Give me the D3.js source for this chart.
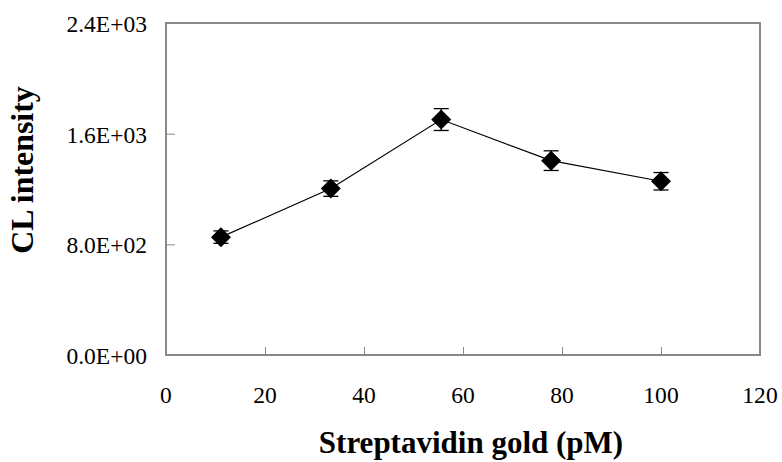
<!DOCTYPE html>
<html>
<head>
<meta charset="utf-8">
<script src="https://cdn.jsdelivr.net/npm/d3@7"></script>
<style>
  body { margin: 0; background: #fff; }
  svg { display: block; }
  text { font-family: "Liberation Serif", "Times New Roman", serif; fill: #000; }
</style>
</head>
<body>
<svg id="chart" width="782" height="462"></svg>
<script>
// data
var concentrations = [11.1, 33.3, 55.6, 77.8, 100];   // pM
var intensities    = [852, 1203, 1702, 1405, 1256];
var errors         = [45, 56, 79, 71, 63];
var xTicks = [0, 20, 40, 60, 80, 100, 120];
var yTicks = [0, 800, 1600, 2400];

var W = 782, H = 462;
var margin = { left: 166, right: 22, top: 23, bottom: 107 };
var innerW = W - margin.left - margin.right,
    innerH = H - margin.top - margin.bottom;

var svg = d3.select( "#chart");
var g = svg.append( "g").attr( "transform", "translate(" + margin.left + "," + margin.top + ")");

var x = d3.scaleLinear().domain( [0, 120]).range( [0, innerW]);
var y = d3.scaleLinear().domain( [0, 2400]).range( [innerH, 0]);

var frameColor = "#888";

// frame
g.append( "rect")
  .attr( "x", 0).attr( "y", 0)
  .attr( "width", innerW).attr( "height", innerH)
  .attr( "fill", "none")
  .attr( "stroke", frameColor)
  .attr( "stroke-width", 2);

// inward ticks, excel style
var xAxis = d3.axisBottom( x).tickValues( xTicks).tickSize( -8).tickFormat( "");
var yAxis = d3.axisLeft( y).tickValues( yTicks).tickSize( -9).tickFormat( "");

g.append( "g").attr( "transform", "translate(0," + innerH + ")").call( xAxis)
  .call( function( s) { s.select( ".domain").remove(); })
  .selectAll( "line").attr( "stroke", frameColor).attr( "stroke-width", 1);
g.append( "g").call( yAxis)
  .call( function( s) { s.select( ".domain").remove(); })
  .selectAll( "line").attr( "stroke", frameColor).attr( "stroke-width", 1);

// tick labels
var sx = 0.98, tickFont = 24;
g.selectAll( ".xlab").data( xTicks).enter()
  .append( "text")
  .attr( "class", "xlab")
  .attr( "transform", function( d) { return "translate(" + x( d) + "," + (innerH + 48) + ") scale(" + sx + ",1)"; })
  .attr( "text-anchor", "middle")
  .style( "font-size", tickFont + "px")
  .text( function( d) { return d; });

function sci( v) {
  if ( v === 0) return "0.0E+00";
  var e = Math.floor( Math.log10( v));
  return ( v / Math.pow( 10, e)).toFixed( 1) + "E+" + ( e < 10 ? "0" : "") + e;
}

g.selectAll( ".ylab").data( yTicks).enter()
  .append( "text")
  .attr( "class", "ylab")
  .attr( "transform", function( d) { return "translate(-19," + ( y( d) + 9) + ") scale(" + sx + ",1)"; })
  .attr( "text-anchor", "end")
  .style( "font-size", tickFont + "px")
  .text( sci);

// axis titles
svg.append( "text")
  .attr( "transform", "translate(471,453)")
  .attr( "text-anchor", "middle")
  .style( "font-size", "31px")
  .style( "font-weight", "bold")
  .text( "Streptavidin gold (pM)");

svg.append( "text")
  .attr( "transform", "translate(33,170) rotate(-90) scale(1.03,1)")
  .attr( "text-anchor", "middle")
  .style( "font-size", "31px")
  .style( "font-weight", "bold")
  .text( "CL intensity");

// series
var pts = concentrations.map( function( c, i) {
  return { x: c, y: intensities[ i], e: errors[ i] };
});

g.append( "path")
  .datum( pts)
  .attr( "fill", "none")
  .attr( "stroke", "#000")
  .attr( "stroke-width", 1.2)
  .attr( "d", d3.line().x( function( d) { return x( d.x); }).y( function( d) { return y( d.y); }));

// error bars
var capW = 7.5;
var eb = g.selectAll( ".err").data( pts).enter().append( "g").attr( "class", "err")
  .attr( "stroke", "#000").attr( "stroke-width", 1.3);
eb.append( "line")
  .attr( "x1", function( d) { return x( d.x); }).attr( "x2", function( d) { return x( d.x); })
  .attr( "y1", function( d) { return y( d.y + d.e); }).attr( "y2", function( d) { return y( d.y - d.e); });
eb.append( "line")
  .attr( "x1", function( d) { return x( d.x) - capW; }).attr( "x2", function( d) { return x( d.x) + capW; })
  .attr( "y1", function( d) { return y( d.y + d.e); }).attr( "y2", function( d) { return y( d.y + d.e); });
eb.append( "line")
  .attr( "x1", function( d) { return x( d.x) - capW; }).attr( "x2", function( d) { return x( d.x) + capW; })
  .attr( "y1", function( d) { return y( d.y - d.e); }).attr( "y2", function( d) { return y( d.y - d.e); });

// diamond markers
var diamond = d3.symbol().type( d3.symbolSquare).size( 200);
g.selectAll( ".pt").data( pts).enter()
  .append( "path")
  .attr( "class", "pt")
  .attr( "transform", function( d) { return "translate(" + x( d.x) + "," + y( d.y) + ") rotate(45)"; })
  .attr( "d", diamond)
  .attr( "fill", "#000");
</script>
</body>
</html>
